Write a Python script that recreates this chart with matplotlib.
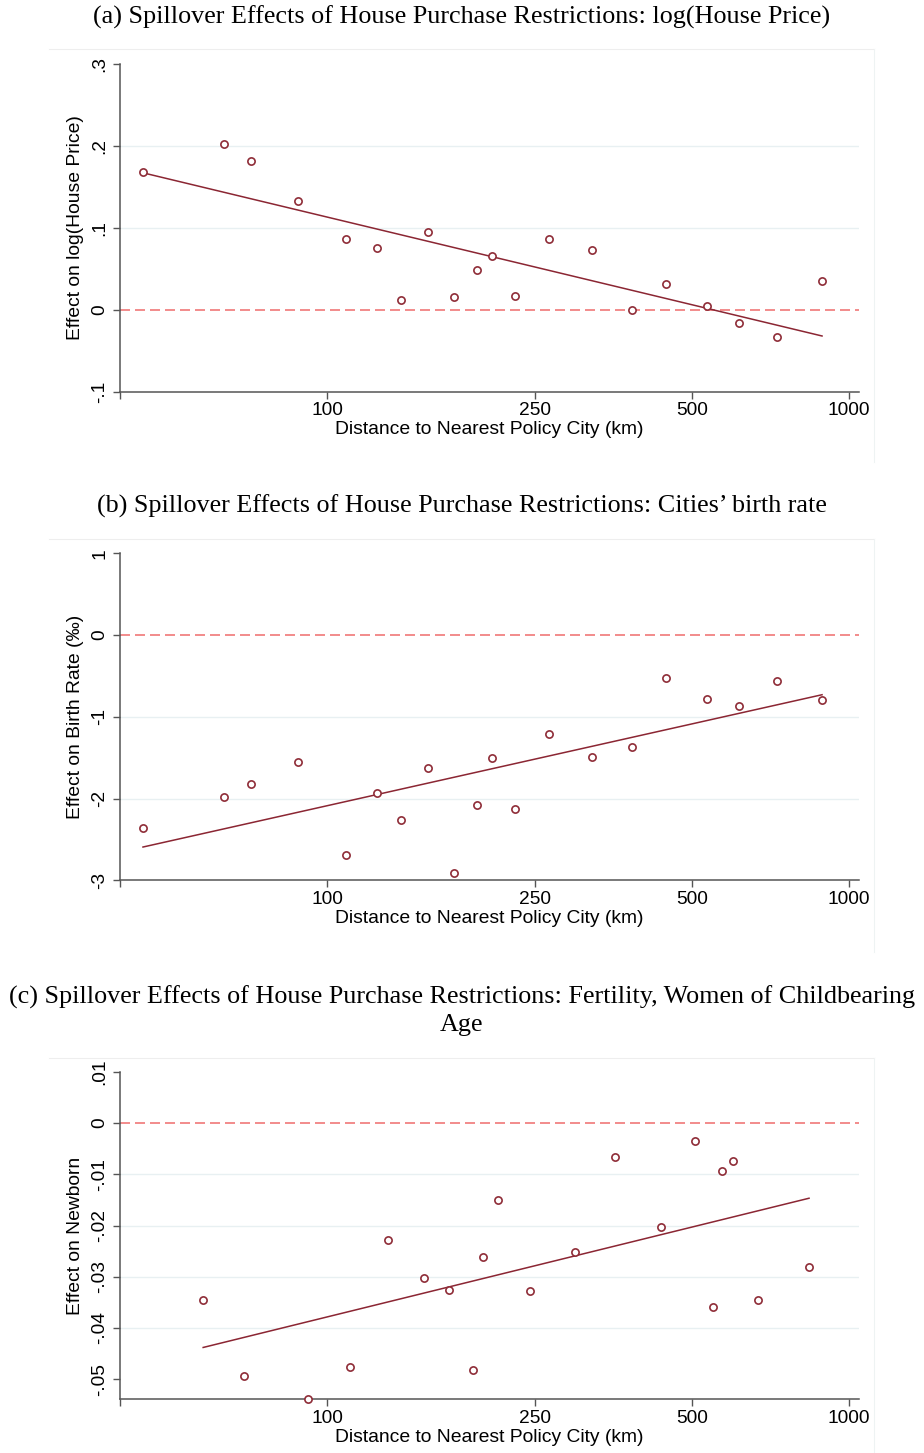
import matplotlib.pyplot as plt
from matplotlib.lines import Line2D
from matplotlib.ticker import FixedLocator, NullFormatter

plt.rcParams["font.family"] = ["Liberation Sans", "DejaVu Sans"]
plt.rcParams["lines.scale_dashes"] = False

# binned distance to nearest policy city (km); panels (a) and (b) share bins
dist_ab = [44.4, 63.6, 71.5, 88.0, 108.7, 124.5, 138.4, 156.1, 175.1, 193.6,
           207.1, 228.8, 266.3, 321.9, 384.0, 446.7, 533.8, 616.6, 729.0, 887.8]
house_price = [0.168, 0.2023, 0.182, 0.1327, 0.0867, 0.0753, 0.0122, 0.0957,
               0.0155, 0.0493, 0.0664, 0.0167, 0.0867, 0.0733, 0.0005, 0.0322,
               0.0045, -0.0159, -0.0325, 0.035]
birth_rate = [-2.357, -1.986, -1.827, -1.55, -2.691, -1.929, -2.268, -1.632,
              -2.908, -2.08, -1.509, -2.133, -1.216, -1.489, -1.375, -0.522,
              -0.779, -0.873, -0.567, -0.791]

dist_c = [57.9, 69.2, 91.9, 110.8, 131.1, 153.4, 171.1, 190.2, 199.1, 212.3,
          245.2, 298.2, 355.7, 435.9, 507.0, 548.2, 570.4, 600.3, 669.4, 838.3]
newborn = [-0.03456, -0.04938, -0.0539, -0.04762, -0.02287, -0.03021, -0.03261,
           -0.04815, -0.02605, -0.01494, -0.0328, -0.02515, -0.00663, -0.0202,
           -0.00357, -0.03587, -0.00942, -0.00741, -0.03456, -0.02807]

# fitted line values at the first and last bin
fit_price = [0.1673, -0.0317]
fit_birth = [-2.593, -0.730]
fit_newborn = [-0.04379, -0.01468]

x_ticks = [100, 250, 500, 1000]
x_tick_labels = ["100", "250", "500", "1000"]
X_LO, X_HI = 40.12, 1045

titles = [
    "(a) Spillover Effects of House Purchase Restrictions: log(House Price)",
    "(b) Spillover Effects of House Purchase Restrictions: Cities\u2019 birth rate",
    "(c) Spillover Effects of House Purchase Restrictions: Fertility, Women of Childbearing\nAge",
]
ylabels = ["Effect on log(House Price)", "Effect on Birth Rate (\u2030)", "Effect on Newborn"]
yticks = [
    [-0.1, 0, 0.1, 0.2, 0.3],
    [-3, -2, -1, 0, 1],
    [-0.05, -0.04, -0.03, -0.02, -0.01, 0, 0.01],
]
ytick_labels = [
    ["-.1", "0", ".1", ".2", ".3"],
    ["-3", "-2", "-1", "0", "1"],
    ["-.05", "-.04", "-.03", "-.02", "-.01", "0", ".01"],
]
ylims = [(-0.1, 0.3), (-3, 1), (-0.0539, 0.01)]

panels = [
    (dist_ab, house_price, fit_price),
    (dist_ab, birth_rate, fit_birth),
    (dist_c, newborn, fit_newborn),
]

W, H = 924, 1453
fig = plt.figure(figsize=(W / 100, H / 100), dpi=100)

# pixel layout: axes (top, bottom), title centre y, panel box (top, bottom)
ax_rows = [(64, 392), (553.3, 880.3), (1071.7, 1399.3)]
title_y = [17, 506, 1011]
box_rows = [(49, 462), (539, 952), (1058, 1460)]
AX_L, AX_R = 120, 859

MARK = "#8f2d38"
LINE = "#8b2633"
ZERO = "#f28b8b"
GRID = "#e8f0f2"
AXC = "#555555"

for i, (xs, ys, fit) in enumerate(panels):
    top, bot = ax_rows[i]
    ax = fig.add_axes([AX_L / W, 1 - bot / H, (AX_R - AX_L) / W, (bot - top) / H])

    # faint frame of each graph region (top and right edges)
    bt, bb = box_rows[i]
    fig.add_artist(Line2D([49 / W, 874 / W], [1 - bt / H] * 2, color="#eeeeee", lw=0.8))
    fig.add_artist(Line2D([874 / W] * 2, [1 - bt / H, 1 - bb / H], color="#eef3f3", lw=0.8))

    for yv in yticks[i][1:-1]:
        if yv != 0:
            ax.axhline(yv, color=GRID, lw=1.0, zorder=0)
    ax.axhline(0, color=ZERO, lw=1.4, dashes=(7.2, 3.6), zorder=1)

    ax.plot([xs[0], xs[-1]], fit, color=LINE, lw=1.1, zorder=2)
    ax.plot(xs, ys, "o", ms=5.2, mfc="white", mec=MARK, mew=1.2, zorder=3,
            clip_on=False)

    ax.set_xscale("log")
    ax.set_xlim(X_LO, X_HI)
    ax.set_ylim(*ylims[i])
    ax.xaxis.set_major_locator(FixedLocator(x_ticks))
    ax.set_xticklabels(x_tick_labels)
    ax.xaxis.set_minor_locator(FixedLocator([X_LO]))
    ax.xaxis.set_minor_formatter(NullFormatter())
    ax.set_yticks(yticks[i])
    ax.set_yticklabels(ytick_labels[i], rotation=90, va="center")

    for s in ["top", "right"]:
        ax.spines[s].set_visible(False)
    for s in ["left", "bottom"]:
        ax.spines[s].set_color(AXC)
        ax.spines[s].set_linewidth(1.1)
    ax.tick_params(axis="both", which="both", length=5, width=1.0, color=AXC,
                   labelsize=13.8, labelcolor="black")
    ax.tick_params(axis="x", pad=2.5)
    ax.tick_params(axis="y", pad=3.5)

    ax.set_xlabel("Distance to Nearest Policy City (km)", fontsize=13.9, labelpad=1.5)
    ax.set_ylabel(ylabels[i], fontsize=13.9)
    ax.yaxis.set_label_coords((84 - AX_L) / (AX_R - AX_L), 0.5)

    fig.text(0.5, 1 - title_y[i] / H, titles[i], ha="center", va="center",
             family="Liberation Serif", fontsize=18.8, linespacing=1.32)

fig.savefig("out.png", dpi=100, facecolor="white")
